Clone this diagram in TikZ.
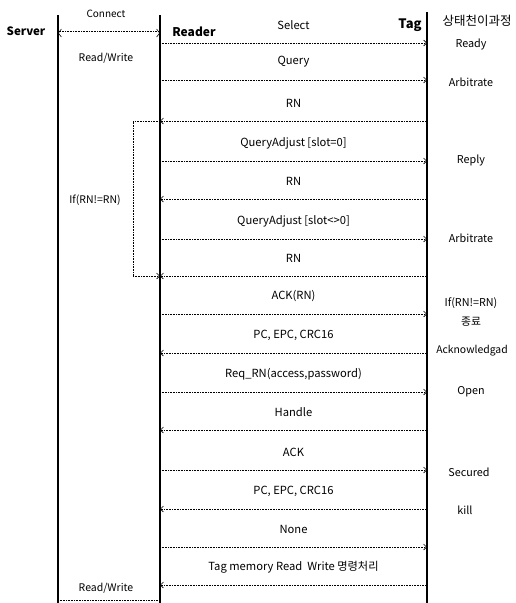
\documentclass[tikz,border=0pt]{standalone}
\usepackage{fontspec}
\setmainfont{Noto Sans CJK KR}
\usetikzlibrary{arrows.meta}
\begin{document}
\begin{tikzpicture}[x=1pt,y=-1pt,
  life/.style={line width=1.1pt},
  msg/.style={densely dotted, line width=0.6pt, -{Straight Barb[length=3pt,width=6pt]}},
  plain/.style={densely dotted, line width=0.6pt},
  lbl/.style={font=\fontsize{11.2}{13}\selectfont, inner sep=1pt},
  hdr/.style={font=\fontsize{12}{14}\selectfont\bfseries, inner sep=1pt},
  st/.style={font=\fontsize{10.8}{12}\selectfont, inner sep=1pt, align=center}]
\useasboundingbox (0,0) rectangle (516,603);
% lifelines
\coordinate (sT) at (58,15); \coordinate (sB) at (58,603);
\coordinate (rT) at (160,15); \coordinate (rB) at (160,603);
\coordinate (tT) at (427,12); \coordinate (tB) at (427,603);
\draw[life] (sT) -- (sB);
\draw[life] (rT) -- (rB);
\draw[life] (tT) -- (tB);
% headers
\node[hdr, font=\fontsize{11.5}{14}\selectfont\bfseries] (hs) at (26,31) {Server};
\node[hdr] (hr) at (194,32) {Reader};
\node[hdr, font=\fontsize{13}{15}\selectfont\bfseries] (ht) at (410,25) {Tag};
\node[st, font=\fontsize{12.5}{14}\selectfont] (hst) at (477,21) {상태천이과정};
% server-reader
\coordinate (sc1) at (58,33); \coordinate (rc1) at (160,33);
\draw[plain, double, double distance=3pt, {Straight Barb[length=3pt,width=8pt]}-{Straight Barb[length=3pt,width=8pt]}] (sc1) -- (rc1);
\node[lbl, font=\fontsize{10}{12}\selectfont] (lc) at (106,14) {Connect};
\node[lbl, font=\fontsize{10.5}{12}\selectfont] (lrw1) at (106,58) {Read/Write};
\coordinate (sc2) at (58,600); \coordinate (rc2) at (160,600);
\draw[plain] (sc2) -- (rc2);
\node[lbl, font=\fontsize{10.5}{12}\selectfont] (lrw2) at (106,588) {Read/Write};
% messages
\foreach \y/\d/\t [count=\i] in {
  43/1/Select,
  80/1/Query,
  121/0/RN,
  161/1/{QueryAdjust [slot=0]},
  199/0/RN,
  239/1/{QueryAdjust [slot<>0]},
  276/0/RN,
  314/1/ACK(RN),
  353/0/{PC, EPC, CRC16},
  392/1/{Req\_RN(access,password)},
  430/0/Handle,
  470/1/ACK,
  509/0/{PC, EPC, CRC16},
  547/1/None,
  585/0/{Tag memory Read\ \ Write 명령처리}} {
  \coordinate (r\i) at (160,\y);
  \coordinate (t\i) at (427,\y);
  \ifnum\d=1
    \draw[msg] (r\i) -- (t\i) node[lbl, midway, yshift=18pt] (m\i) {\t};
  \else
    \draw[msg] (t\i) -- (r\i) node[lbl, midway, yshift=18pt] (m\i) {\t};
  \fi
}
% loop bracket
\coordinate (lt) at (133,121); \coordinate (lb) at (133,276);
\coordinate (ltr) at (158,121);
\draw[plain] (ltr) -- (lt) -- (lb);
\draw[msg] (lb) -- (r7);
\node[lbl, font=\fontsize{10.5}{12}\selectfont] (lif) at (95,200) {If(RN!=RN)};
% states
\node[st] (s1) at (471,44) {Ready};
\node[st] (s2) at (471,82) {Arbitrate};
\node[st] (s3) at (471,160) {Reply};
\node[st] (s4) at (471,238) {Arbitrate};
\node[st] (s5) at (471,303) {If(RN!=RN)};
\node[st] (s6) at (471,322) {종료};
\node[st, font=\fontsize{10.4}{12}\selectfont] (s7) at (472,351) {Acknowledgad};
\node[st] (s8) at (471,392) {Open};
\node[st] (s9) at (469,472) {Secured};
\node[st] (s10) at (465,510) {kill};
\end{tikzpicture}
\end{document}
